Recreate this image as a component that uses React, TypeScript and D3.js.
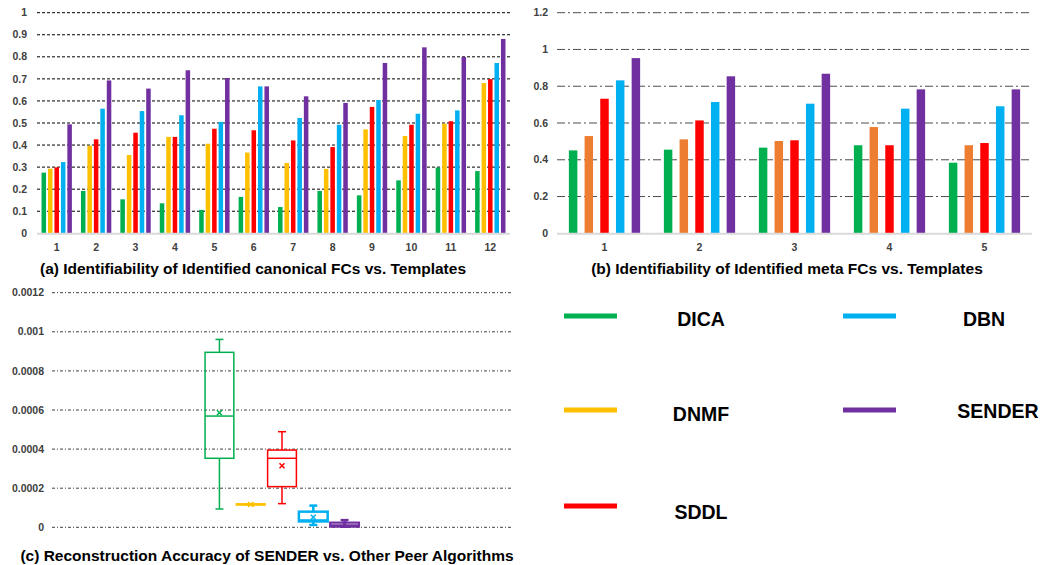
import * as d3 from "d3";

const series = ["DICA", "DNMF", "SDDL", "DBN", "SENDER"];
const colorsA = ["#00B050", "#FFC000", "#FF0000", "#00B0F0", "#7030A0"];
const colorsB = ["#00B050", "#ED7D31", "#FF0000", "#00B0F0", "#7030A0"];

// (a) canonical FCs
const groupsA = ["1", "2", "3", "4", "5", "6", "7", "8", "9", "10", "11", "12"];
const dicaA = [0.275, 0.192, 0.154, 0.136, 0.106, 0.165, 0.119, 0.192, 0.172, 0.24, 0.298, 0.282];
const dnmfA = [0.293, 0.397, 0.355, 0.437, 0.406, 0.366, 0.319, 0.292, 0.471, 0.441, 0.497, 0.681];
const sddlA = [0.299, 0.426, 0.456, 0.437, 0.474, 0.467, 0.421, 0.391, 0.573, 0.492, 0.508, 0.699];
const dbnA = [0.323, 0.565, 0.554, 0.535, 0.505, 0.666, 0.523, 0.492, 0.604, 0.542, 0.557, 0.772];
const senderA = [0.494, 0.693, 0.656, 0.739, 0.704, 0.666, 0.621, 0.591, 0.772, 0.843, 0.799, 0.881];
const ticksA = [0, 0.1, 0.2, 0.3, 0.4, 0.5, 0.6, 0.7, 0.8, 0.9, 1];

// (b) meta FCs
const groupsB = ["1", "2", "3", "4", "5"];
const dicaB = [0.451, 0.455, 0.466, 0.479, 0.384];
const dnmfB = [0.529, 0.511, 0.502, 0.578, 0.479];
const sddlB = [0.732, 0.614, 0.506, 0.479, 0.491];
const dbnB = [0.832, 0.714, 0.705, 0.678, 0.691];
const senderB = [0.953, 0.854, 0.868, 0.783, 0.783];
const ticksB = [0, 0.2, 0.4, 0.6, 0.8, 1, 1.2];

// (c) reconstruction error box plots
const boxMin = [0.0000937, 0.000113, 0.000121, 0.0000119, 0.000002];
const boxQ1 = [0.000353, 0.000114, 0.000208, 0.00003, 0.0000034];
const boxMedian = [0.000569, 0.000117, 0.000353, 0.000035, 0.00001];
const boxQ3 = [0.000895, 0.00012, 0.000395, 0.00008, 0.0000239];
const boxMax = [0.000961, 0.000121, 0.000489, 0.000111, 0.0000375];
const boxMean = [0.000586, 0.000117, 0.000315, 0.000051, 0.000017];
const boxStroke = [1.5, 1.5, 1.5, 2.5, 2.2];
const ticksC = [0, 0.0002, 0.0004, 0.0006, 0.0008, 0.001, 0.0012];
const tickLabelsC = ["0", "0.0002", "0.0004", "0.0006", "0.0008", "0.001", "0.0012"];

const FONT = "'Liberation Sans', Arial, sans-serif";

function BarPanel({ groups, values, colors, ticks, yMax, x0, x1, yTop, yBottom, outerPad, innerPad, labelRight, dash, gridColor, title, titleX }: any) {
  const x = d3.scaleBand().domain(groups).range([x0, x1]).paddingInner(outerPad).paddingOuter(outerPad / 2);
  const xi = d3.scaleBand().domain(series).range([0, x.bandwidth()]).paddingInner(innerPad);
  const y = d3.scaleLinear().domain([0, yMax]).range([yBottom, yTop]);
  return (
    <g>
      {ticks.map((t: number) => (
        <g key={t}>
          {t > 0 && <line x1={x0} x2={x1} y1={y(t)} y2={y(t)} stroke={gridColor} strokeWidth={1} strokeDasharray={dash} />}
          <text x={labelRight} y={y(t)} dy="0.35em" textAnchor="end" fontSize={10.5} fontWeight="bold" fill="#404040" fontFamily={FONT}>{t}</text>
        </g>
      ))}
      {groups.map((g: string, gi: number) => (
        <g key={g} transform={`translate(${x(g)},0)`}>
          {series.map((s, si) => (
            <rect key={s} x={xi(s)} y={y(values[si][gi])} width={xi.bandwidth()} height={yBottom - y(values[si][gi])} fill={colors[si]} />
          ))}
        </g>
      ))}
      <line x1={x0} x2={x1} y1={yBottom + 0.5} y2={yBottom + 0.5} stroke="#d9d9d9" strokeWidth={2} />
      {groups.map((g: string) => (
        <text key={g} x={(x(g) as number) + x.bandwidth() / 2} y={251} textAnchor="middle" fontSize={10.5} fontWeight="bold" fill="#404040" fontFamily={FONT}>{g}</text>
      ))}
      <text x={titleX} y={274} textAnchor="middle" fontSize={15.5} fontWeight="bold" fill="#000" fontFamily={FONT}>{title}</text>
    </g>
  );
}

function BoxPanel() {
  const x0 = 52, x1 = 512, yTop = 292.7, yBottom = 527.3;
  const outer = d3.scaleBand().domain(["1"]).range([x0, x1]).paddingInner(0.66).paddingOuter(0.33);
  const xi = d3.scaleBand().domain(series).range([outer("1") as number, (outer("1") as number) + outer.bandwidth()]).paddingInner(0.08).paddingOuter(0.04);
  const y = d3.scaleLinear().domain([0, 0.0012]).range([yBottom, yTop]);
  const cap = 4;
  return (
    <g>
      {ticksC.map((t, i) => (
        <g key={t}>
          <line x1={x0} x2={x1} y1={y(t)} y2={y(t)} stroke="#404040" strokeWidth={1} strokeDasharray="3,2,1,2" />
          <text x={44} y={y(t)} dy="0.35em" textAnchor="end" fontSize={10.5} fontWeight="bold" fill="#404040" fontFamily={FONT}>{tickLabelsC[i]}</text>
        </g>
      ))}
      {series.map((s, i) => {
        const c = colorsA[i];
        const bx = xi(s) as number;
        const cx = bx + xi.bandwidth() / 2;
        const sw = boxStroke[i];
        const m = y(boxMean[i]);
        return (
          <g key={s} stroke={c} fill="none" strokeWidth={sw}>
            <line x1={cx} x2={cx} y1={y(boxQ3[i])} y2={y(boxMax[i])} />
            <line x1={cx} x2={cx} y1={y(boxQ1[i])} y2={y(boxMin[i])} />
            <line x1={cx - cap} x2={cx + cap} y1={y(boxMax[i])} y2={y(boxMax[i])} />
            <line x1={cx - cap} x2={cx + cap} y1={y(boxMin[i])} y2={y(boxMin[i])} />
            <rect x={bx} y={y(boxQ3[i])} width={xi.bandwidth()} height={Math.max(0.5, y(boxQ1[i]) - y(boxQ3[i]))} />
            <line x1={bx} x2={bx + xi.bandwidth()} y1={y(boxMedian[i])} y2={y(boxMedian[i])} />
            <path d={`M${cx - 2.5},${m - 2.5}L${cx + 2.5},${m + 2.5}M${cx - 2.5},${m + 2.5}L${cx + 2.5},${m - 2.5}`} strokeWidth={1.5} />
          </g>
        );
      })}
      <text x={267} y={561} textAnchor="middle" fontSize={15.5} fontWeight="bold" fill="#000" fontFamily={FONT}>(c) Reconstruction Accuracy of SENDER vs. Other Peer Algorithms</text>
    </g>
  );
}

function Legend() {
  const items = [
    { lx: 564, ly: 316, tx: 701, ty: 326 },
    { lx: 564, ly: 410, tx: 701, ty: 421 },
    { lx: 564, ly: 506, tx: 701, ty: 519 },
    { lx: 843, ly: 316, tx: 984, ty: 326 },
    { lx: 843, ly: 410, tx: 998, ty: 418 },
  ];
  return (
    <g>
      {series.map((s, i) => (
        <g key={s}>
          <line x1={items[i].lx} x2={items[i].lx + 53} y1={items[i].ly} y2={items[i].ly} stroke={colorsA[i]} strokeWidth={5} />
          <text x={items[i].tx} y={items[i].ty} textAnchor="middle" fontSize={19.5} fontWeight="bold" fill="#000" fontFamily={FONT}>{s}</text>
        </g>
      ))}
    </g>
  );
}

export default function App() {
  return (
    <div style={{ position: "absolute", left: 0, top: 0 }}>
      <svg width={1042} height={565} style={{ display: "block", background: "#fff" }}>
        <BarPanel groups={groupsA} values={[dicaA, dnmfA, sddlA, dbnA, senderA]} colors={colorsA} ticks={ticksA} yMax={1}
          x0={37} x1={510} yTop={12.7} yBottom={233.3} outerPad={0.23} innerPad={0.3} labelRight={27}
          dash="3,2" gridColor="#000" title="(a) Identifiability of Identified canonical FCs vs. Templates" titleX={253} />
        <BarPanel groups={groupsB} values={[dicaB, dnmfB, sddlB, dbnB, senderB]} colors={colorsB} ticks={ticksB} yMax={1.2}
          x0={557} x1={1032} yTop={12.7} yBottom={233.3} outerPad={0.25} innerPad={0.46} labelRight={548}
          dash="8,3,2,3" gridColor="#4d4d4d" title="(b) Identifiability of Identified meta FCs vs. Templates" titleX={787} />
        <BoxPanel />
        <Legend />
      </svg>
    </div>
  );
}
